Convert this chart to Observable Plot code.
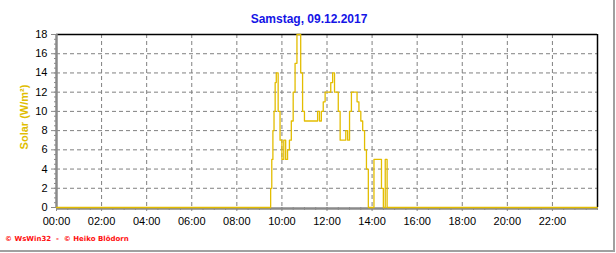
<!DOCTYPE html>
<html>
<head>
<meta charset="utf-8">
<script src="https://cdn.jsdelivr.net/npm/d3@7"></script>
<script src="https://cdn.jsdelivr.net/npm/@observablehq/plot@0.6"></script>
<style>
  html, body { margin: 0; padding: 0; background: white; }
</style>
</head>
<body>
<div id="chart"></div>
<script>
// ---- data ----
const titleText = "Samstag, 09.12.2017";
const yLabelText = "Solar (W/m²)";
const footerText = "© WsWin32  -  © Heiko Blödorn";

const times = [
  "00:00","09:25",
  "09:30","09:33","09:36","09:39","09:42","09:45","09:50","09:55",
  "10:00","10:05","10:10","10:15","10:20","10:25","10:30","10:35","10:40","10:45","10:50","10:55",
  "11:00","11:05","11:10","11:15","11:20","11:25","11:30","11:35","11:40","11:45","11:50","11:55",
  "12:00","12:05","12:10","12:15","12:20","12:25","12:30","12:35","12:40","12:45","12:50","12:55",
  "13:00","13:05","13:10","13:15","13:20","13:25","13:30","13:35","13:40","13:45","13:50","13:55",
  "14:00","14:05","14:10","14:15","14:20","14:25","14:30","14:35","14:40","14:45",
  "23:59"
];
const solar = [
  0, 0,
  2, 5, 8, 10, 13, 14, 10, 7,
  5, 7, 5, 6, 7, 9, 12, 15, 18, 18, 14, 10,
  9, 9, 9, 9, 9, 9, 9, 10, 9, 10, 11, 12,
  12, 12, 13, 14, 12, 12, 10, 7, 7, 7, 8, 7,
  10, 12, 12, 12, 11, 10, 9, 8, 6, 4, 0, 0,
  0, 5, 5, 5, 5, 2, 0, 5, 0, 0,
  0
];
const xTickHours = [0, 2, 4, 6, 8, 10, 12, 14, 16, 18, 20, 22];
const xTickLabels = ["00:00","02:00","04:00","06:00","08:00","10:00","12:00","14:00","16:00","18:00","20:00","22:00"];
const yTicks = [0, 2, 4, 6, 8, 10, 12, 14, 16, 18];

// ---- build table ----
const toHours = s => { const [h, m] = s.split(":").map(Number); return h + m / 60; };
const rows = times.map((t, i) => ({ h: toHours(t), v: solar[i] }));
const xMinor = d3.range(0, 24.001, 0.5);
const yMinor = d3.range(0, 18.001, 0.5);

const gridColor = "#808080";
const axisColor = "#8a8a8a";
const lineColor = "#e3bd00";

const chart = Plot.plot({
  width: 616,
  height: 253,
  marginLeft: 56,
  marginRight: 19,
  marginTop: 34,
  marginBottom: 46,
  x: { domain: [0, 24] },
  y: { domain: [0, 18] },
  style: { fontFamily: "'Liberation Sans', Arial, sans-serif", fontSize: "11px", background: "white", color: "black", overflow: "visible" },
  marks: [
    Plot.ruleY(yTicks.filter(d => d > 0 && d < 18), { stroke: gridColor, strokeDasharray: "4,3" }),
    Plot.ruleX(xTickHours.filter(d => d > 0), { stroke: gridColor, strokeDasharray: "4,3" }),
    Plot.ruleY([18], { stroke: "black", strokeWidth: 1.5 }),
    Plot.ruleX([24], { stroke: "black", strokeWidth: 1.5 }),
    Plot.axisX(xMinor, { tickSize: 3, stroke: axisColor, tickFormat: () => "", label: null }),
    Plot.axisX(xTickHours, { tickSize: 4, tickPadding: 6, stroke: axisColor, fill: "black", tickFormat: d => xTickLabels[xTickHours.indexOf(d)], label: null }),
    Plot.axisY(yMinor, { tickSize: 2, stroke: axisColor, tickFormat: () => "", label: null }),
    Plot.axisY(yTicks, { tickSize: 5, tickPadding: 4, stroke: axisColor, fill: "black", label: null }),
    Plot.ruleX([0], { stroke: axisColor, strokeWidth: 2.5 }),
    Plot.ruleY([0], { stroke: axisColor, strokeWidth: 2.5, dy: 1 }),
    Plot.line(rows, { x: "h", y: "v", stroke: lineColor, strokeWidth: 1.3, curve: "step-after" })
  ]
});

const svg = d3.select(chart);
svg.append("text")
  .attr("x", 309).attr("y", 23)
  .attr("text-anchor", "middle")
  .attr("font-family", "'Liberation Sans', Arial, sans-serif")
  .attr("font-size", 12).attr("font-weight", "bold")
  .attr("fill", "#1414e6")
  .text(titleText);
svg.append("text")
  .attr("transform", "translate(28,117) rotate(-90)")
  .attr("text-anchor", "middle")
  .attr("font-family", "'Liberation Sans', Arial, sans-serif")
  .attr("font-size", 11).attr("font-weight", "bold")
  .attr("fill", "#e0bd00")
  .text(yLabelText);
svg.append("text")
  .attr("x", 5).attr("y", 241)
  .attr("text-anchor", "start")
  .attr("font-family", "'DejaVu Sans', sans-serif")
  .attr("font-size", 7).attr("font-weight", "bold")
  .attr("fill", "#ff1010")
  .text(footerText);
svg.append("line")
  .attr("x1", 614).attr("x2", 614).attr("y1", 0).attr("y2", 252)
  .attr("stroke", "#a0a0a0").attr("stroke-width", 2);
svg.append("line")
  .attr("x1", 0).attr("x2", 615).attr("y1", 251).attr("y2", 251)
  .attr("stroke", "#a0a0a0").attr("stroke-width", 2);

document.getElementById("chart").appendChild(chart);
</script>
</body>
</html>
